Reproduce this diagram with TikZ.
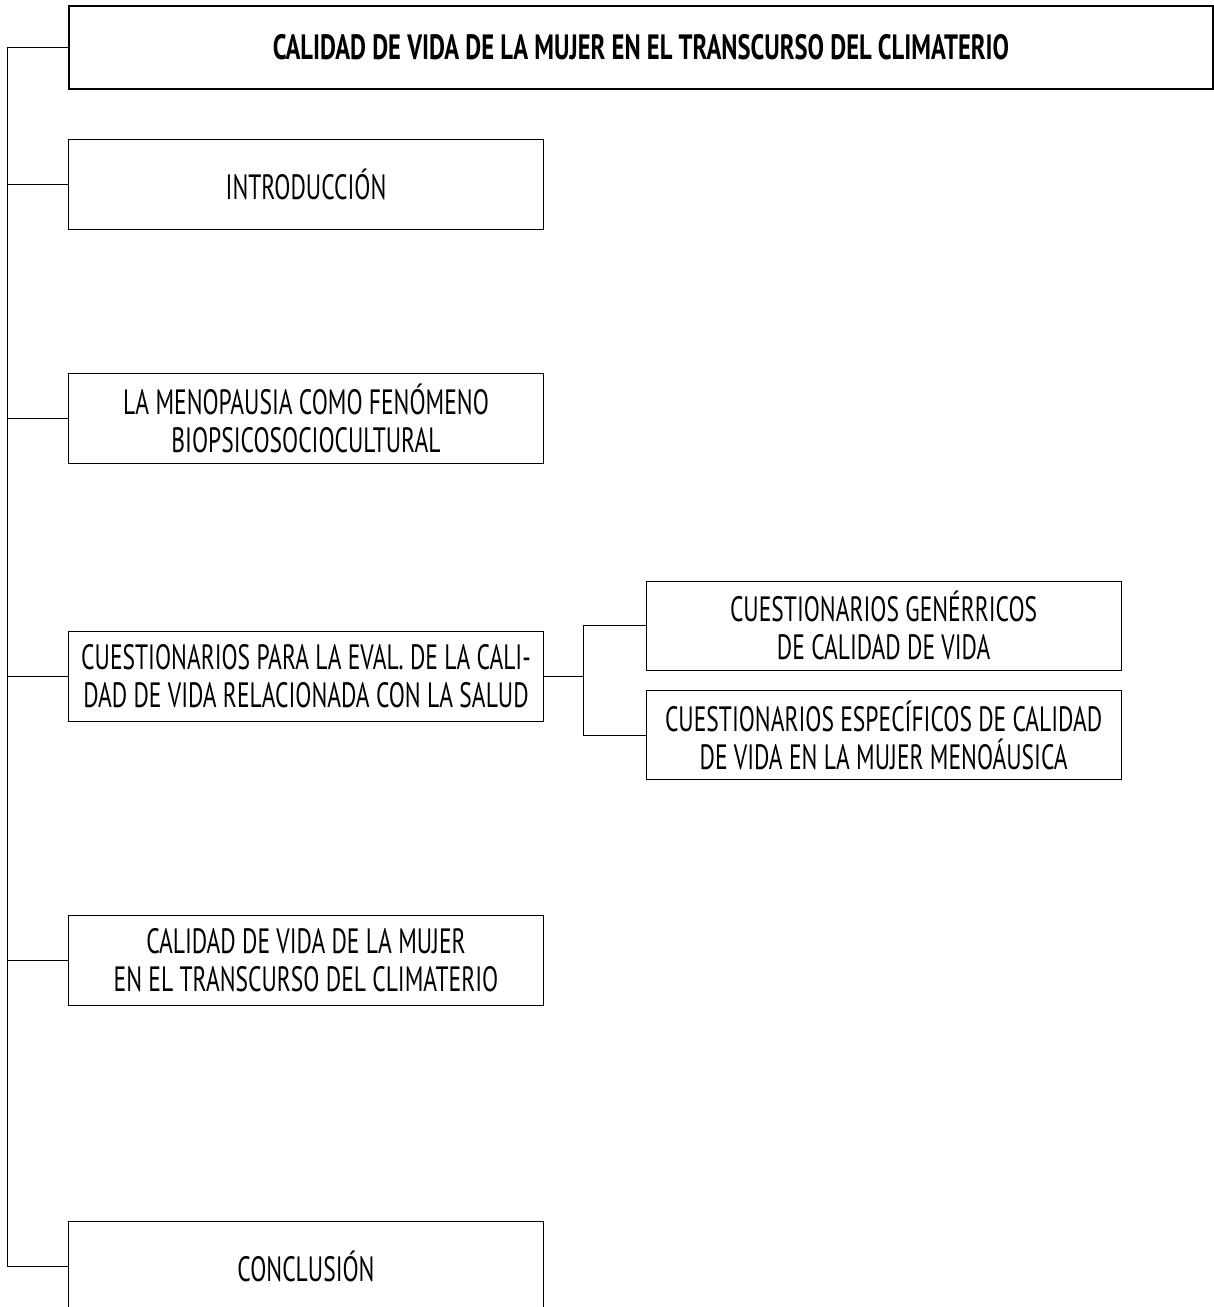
\documentclass[tikz,border=0pt]{standalone}
\usepackage{fontspec}
\setmainfont{PT Sans}[FakeStretch=0.67]
\newfontfamily\headfont{PT Sans Bold}[FakeStretch=0.70]
\begin{document}
\begin{tikzpicture}[every path/.style={line width=0.7pt},
    box/.style={draw, rectangle, line width=0.7pt, minimum width=11.86cm, minimum height=2.25cm, inner sep=1pt, align=center, font=\fontsize{25}{27}\selectfont, fill=white},
    head/.style={draw, rectangle, line width=1.8pt, minimum width=28.6cm, minimum height=2.075cm, font=\headfont\fontsize{25}{27}\selectfont, fill=white}]

    \useasboundingbox (0,0) rectangle (30.35,-32.675);

    \node[head] (0) at (16.025,-1.19) {CALIDAD DE VIDA DE LA MUJER EN EL TRANSCURSO DEL CLIMATERIO};

    \node[box] (1) at (7.65,-4.6) {INTRODUCCIÓN};

    \node[box] (2) at (7.65,-10.45) {LA MENOPAUSIA COMO FENÓMENO\\BIOPSICOSOCIOCULTURAL};

    \node[box] (3) at (7.65,-16.9) {CUESTIONARIOS PARA LA EVAL. DE LA CALI-\\DAD DE VIDA RELACIONADA CON LA SALUD};

    \node[box] (4) at (7.65,-24.01) {CALIDAD DE VIDA DE LA MUJER\\EN EL TRANSCURSO DEL CLIMATERIO};

    \node[box] (5) at (7.65,-31.65) {CONCLUSIÓN};



    \node[box, minimum width=11.875cm, minimum height=2.225cm] (6) at (22.09,-15.64) {CUESTIONARIOS GENÉRRICOS\\DE CALIDAD DE VIDA};

    \node[box, minimum width=11.875cm, minimum height=2.225cm] (7) at (22.09,-18.38) {CUESTIONARIOS ESPECÍFICOS DE CALIDAD\\DE VIDA EN LA MUJER MENOÁUSICA};

    % rail on the left
    \coordinate (top) at (0.19,-1.19);
    \coordinate (bot) at (0.19,-31.65);

    \draw[] (0.west) -- (top) -- (bot) -- (5.west);
    \foreach \n in {1,...,4}
        \draw[] (\n.west) -- (\n.west -| top);

    % fork to the two questionnaires
    \coordinate (f) at (14.58,-16.9);

    \draw[] (3.east) -- (f);
    \draw[] (6.west) -| (f) |- (7.west);

\end{tikzpicture}
\end{document}
